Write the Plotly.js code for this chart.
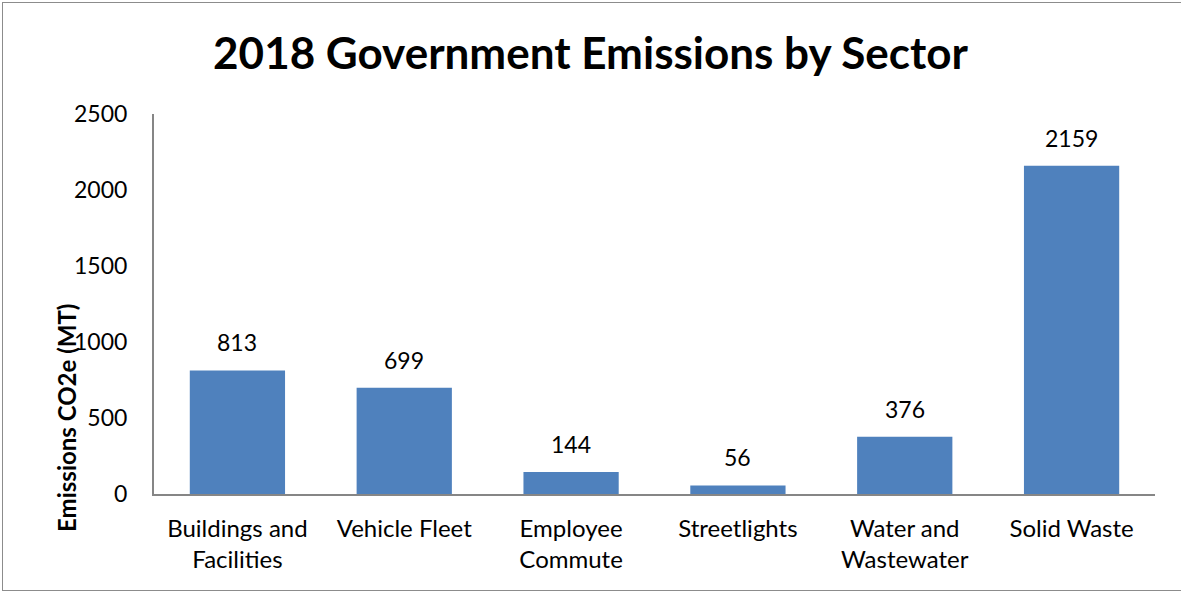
<!DOCTYPE html>
<html><head><meta charset="utf-8">
<script src="https://cdn.plot.ly/plotly-3.0.1.min.js"></script>
<style>
html,body{margin:0;padding:0;background:#fff;}
#wrap{position:relative;width:1181px;height:594px;}
#frame{position:absolute;left:2px;top:2px;width:1180px;height:589px;border:1.5px solid #8c8c8c;box-sizing:border-box;pointer-events:none;}
#chart{position:absolute;left:0;top:0;width:1181px;height:594px;}
</style></head>
<body><div id="wrap"><div id="chart"></div><div id="frame"></div></div>
<script>
const categories = ["Buildings and<br>Facilities", "Vehicle Fleet", "Employee<br>Commute", "Streetlights", "Water and<br>Wastewater", "Solid Waste"];
const emissions = [813, 699, 144, 56, 376, 2159];
const yTicks = [0, 500, 1000, 1500, 2000, 2500];

const font = "Lato, 'Open Sans', sans-serif";
const trace = {
  type: 'bar', x: categories, y: emissions,
  marker: {color: '#4F81BD'}, width: 0.571, hoverinfo: 'none'
};
const labels = categories.map((c, i) => ({
  x: c, y: emissions[i], xref: 'x', yref: 'y', text: String(emissions[i]),
  showarrow: false, yanchor: 'bottom', yshift: 12,
  font: {family: font, size: 23, color: '#000'}
}));
labels.push({
  xref: 'paper', yref: 'paper', x: -0.088, y: 0.2, text: '<b>Emissions CO2e (MT)</b>',
  textangle: -90, showarrow: false, xanchor: 'center', yanchor: 'middle',
  font: {family: font, size: 24, color: '#000'}
});
const layout = {
  width: 1181, height: 594,
  margin: {l: 154, r: 26, t: 114, b: 100},
  paper_bgcolor: '#fff', plot_bgcolor: '#fff',
  showlegend: false,
  title: {text: '<b>2018 Government Emissions by Sector</b>', x: 0.5, xref: 'container', xanchor: 'center', y: 0.91, yanchor: 'middle',
    font: {family: font, size: 44, color: '#000'}},
  xaxis: {type: 'category', showline: true, linecolor: '#868686', linewidth: 2, ticks: '', ticklabelstandoff: 12,
    tickfont: {family: font, size: 24, color: '#000'}, showgrid: false, zeroline: false, fixedrange: true},
  yaxis: {range: [0, 2500], tickvals: yTicks, ticktext: yTicks.map(String), showline: true, linecolor: '#868686', linewidth: 2,
    ticks: '', ticklabelstandoff: 20, showgrid: false, zeroline: false,
    tickfont: {family: font, size: 23, color: '#000'}, fixedrange: true},
  annotations: labels
};
Plotly.newPlot('chart', [trace], layout, {displayModeBar: false, staticPlot: true});
</script></body></html>
